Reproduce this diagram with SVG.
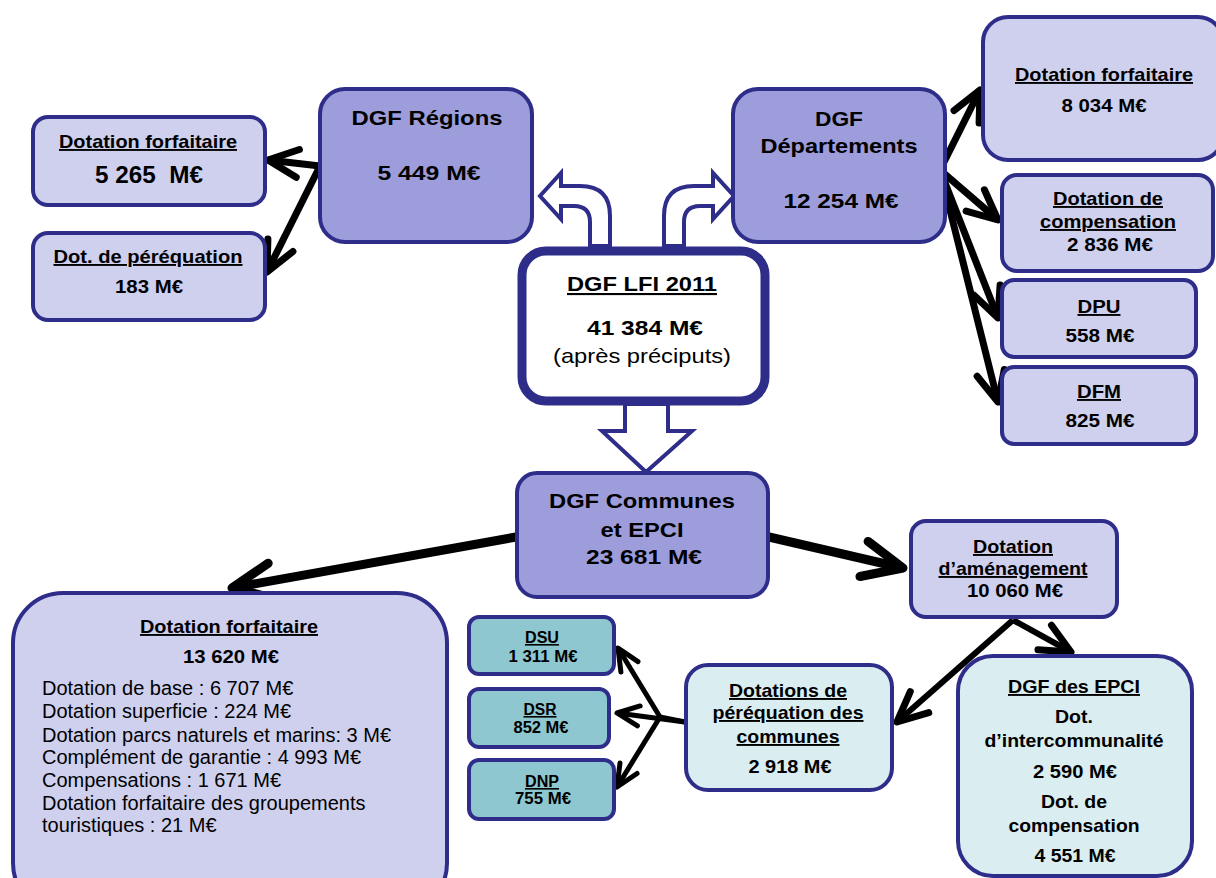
<svg xmlns="http://www.w3.org/2000/svg" width="1216" height="878" viewBox="0 0 1216 878">
<style>
.t{font-family:"Liberation Sans",Arial,sans-serif;font-weight:bold;fill:#000;text-anchor:middle;font-size:19px}
.b{font-size:21px}
.s{font-size:16px}
.u{text-decoration:underline}
.r{font-weight:normal}
.l{text-anchor:start;font-weight:normal;font-size:20px}
.box{stroke:#2e2e8a;stroke-width:4}
.mid{fill:#9d9ddc}
.lt{fill:#cfcfee}
.cy{fill:#daedf0}
.tl{fill:#8ec7cf}
.ln{stroke:#000;fill:none}
.blk{fill:#fff;stroke:#2e2e8a;stroke-width:4;stroke-linejoin:miter}
</style>
<defs>
<marker id="am" markerUnits="userSpaceOnUse" orient="auto" markerWidth="2" markerHeight="2" refX="0" refY="0" style="overflow:visible"><path d="M-30,-14 L0,0 L-30,14" fill="none" stroke="#000" stroke-width="7" stroke-linecap="round" stroke-linejoin="round"/></marker>
<marker id="al" markerUnits="userSpaceOnUse" orient="auto" markerWidth="2" markerHeight="2" refX="0" refY="0" style="overflow:visible"><path d="M-40,-18 L0,0 L-40,18" fill="none" stroke="#000" stroke-width="9" stroke-linecap="round" stroke-linejoin="round"/></marker>
<marker id="as" markerUnits="userSpaceOnUse" orient="auto" markerWidth="2" markerHeight="2" refX="0" refY="0" style="overflow:visible"><path d="M-22,-10 L0,0 L-22,10" fill="none" stroke="#000" stroke-width="5" stroke-linecap="round" stroke-linejoin="round"/></marker>
</defs>

<g id="block-arrows">
<path class="blk" d="M590,246 L590,222 Q590,206 574,206 L561,206 L561,219 L540,196 L561,173 L561,186 L580,186 Q610,186 610,216 L610,246 Z"/>
<path class="blk" d="M684,246 L684,222 Q684,206 700,206 L713,206 L713,219 L734,196 L713,173 L713,186 L694,186 Q664,186 664,216 L664,246 Z"/>
<path class="blk" d="M625,404 L668,404 L668,431 L692,431 L646,472 L602,431 L625,431 Z"/>
</g>

<g id="connectors">
<path class="ln" stroke-width="7" marker-end="url(#am)" d="M320,166 L268,160"/>
<path class="ln" stroke-width="7" marker-end="url(#am)" d="M320,166 L267,272"/>
<path class="ln" stroke-width="7" marker-end="url(#am)" d="M940,170 L980,90"/>
<path class="ln" stroke-width="7" marker-end="url(#am)" d="M940,170 L998,220"/>
<path class="ln" stroke-width="7" marker-end="url(#am)" d="M940,170 L998,318"/>
<path class="ln" stroke-width="7" marker-end="url(#am)" d="M940,170 L998,402"/>
<path class="ln" stroke-width="9" marker-end="url(#al)" d="M516,537 L232,588"/>
<path class="ln" stroke-width="9" marker-end="url(#al)" d="M769,537 L903,568"/>
<path class="ln" stroke-width="6" marker-end="url(#am)" d="M1013,620 L897,722"/>
<path class="ln" stroke-width="6" marker-end="url(#am)" d="M1013,620 L1071,652"/>
<path class="ln" stroke-width="5" d="M685,722 L660,717"/>
<path class="ln" stroke-width="5" marker-end="url(#as)" d="M660,717 L618,648"/>
<path class="ln" stroke-width="5" marker-end="url(#as)" d="M685,722 L617,713"/>
<path class="ln" stroke-width="5" marker-end="url(#as)" d="M660,717 L617,787"/>
</g>

<g id="dgf-lfi">
<rect x="522" y="251" width="243" height="150" rx="24" fill="#fff" stroke="#2e2e8a" stroke-width="9"/>
<text class="t b u" x="642" y="291" textLength="150" lengthAdjust="spacingAndGlyphs">DGF LFI 2011</text>
<text class="t b" x="645" y="335" textLength="116" lengthAdjust="spacingAndGlyphs">41 384 M€</text>
<text class="t b r" x="642" y="363" textLength="178" lengthAdjust="spacingAndGlyphs">(après préciputs)</text>
</g>

<g id="dgf-regions">
<rect x="320" y="89" width="212" height="153" rx="25" class="box mid"/>
<text class="t b" x="427" y="125" textLength="151" lengthAdjust="spacingAndGlyphs">DGF Régions</text>
<text class="t b" x="429" y="180" textLength="103" lengthAdjust="spacingAndGlyphs">5 449 M€</text>
</g>

<g id="dgf-departements">
<rect x="733" y="89" width="212" height="153" rx="25" class="box mid"/>
<text class="t b" x="839" y="126" textLength="48" lengthAdjust="spacingAndGlyphs">DGF</text>
<text class="t b" x="839" y="153" textLength="157" lengthAdjust="spacingAndGlyphs">Départements</text>
<text class="t b" x="841" y="208" textLength="115" lengthAdjust="spacingAndGlyphs">12 254 M€</text>
</g>

<g id="reg-forfaitaire">
<rect x="33" y="117" width="232" height="88" rx="15" class="box lt"/>
<text class="t u" x="148" y="148" textLength="178" lengthAdjust="spacingAndGlyphs">Dotation forfaitaire</text>
<text class="t" x="149" y="183" style="font-size:24px" xml:space="preserve" textLength="108" lengthAdjust="spacingAndGlyphs">5 265  M€</text>
</g>

<g id="reg-perequation">
<rect x="33" y="233" width="232" height="87" rx="15" class="box lt"/>
<text class="t u" x="148" y="263" textLength="189" lengthAdjust="spacingAndGlyphs">Dot. de péréquation</text>
<text class="t" x="149" y="293" textLength="68" lengthAdjust="spacingAndGlyphs">183 M€</text>
</g>

<g id="dep-forfaitaire">
<rect x="983" y="17" width="240" height="143" rx="25" class="box lt"/>
<text class="t u" x="1104" y="81" textLength="178" lengthAdjust="spacingAndGlyphs">Dotation forfaitaire</text>
<text class="t" x="1104" y="112" textLength="85" lengthAdjust="spacingAndGlyphs">8 034 M€</text>
</g>

<g id="dep-compensation">
<rect x="1002" y="175" width="211" height="96" rx="15" class="box lt"/>
<text class="t u" x="1108" y="205" textLength="110" lengthAdjust="spacingAndGlyphs">Dotation de</text>
<text class="t u" x="1108" y="228" textLength="136" lengthAdjust="spacingAndGlyphs">compensation</text>
<text class="t" x="1110" y="251" textLength="86" lengthAdjust="spacingAndGlyphs">2 836 M€</text>
</g>

<g id="dep-dpu">
<rect x="1002" y="280" width="194" height="77" rx="12" class="box lt"/>
<text class="t u" x="1099" y="313" textLength="43" lengthAdjust="spacingAndGlyphs">DPU</text>
<text class="t" x="1100" y="342" textLength="69" lengthAdjust="spacingAndGlyphs">558 M€</text>
</g>

<g id="dep-dfm">
<rect x="1002" y="367" width="194" height="77" rx="12" class="box lt"/>
<text class="t u" x="1099" y="398" textLength="44" lengthAdjust="spacingAndGlyphs">DFM</text>
<text class="t" x="1100" y="427" textLength="69" lengthAdjust="spacingAndGlyphs">825 M€</text>
</g>

<g id="dgf-communes">
<rect x="517" y="473" width="251" height="124" rx="20" class="box mid"/>
<text class="t b" x="642" y="508" textLength="186" lengthAdjust="spacingAndGlyphs">DGF Communes</text>
<text class="t b" x="642" y="537" textLength="83" lengthAdjust="spacingAndGlyphs">et EPCI</text>
<text class="t b" x="644" y="564" textLength="116" lengthAdjust="spacingAndGlyphs">23 681 M€</text>
</g>

<g id="com-forfaitaire">
<rect x="13" y="593" width="434" height="320" rx="50" class="box lt"/>
<text class="t u" x="229" y="633" textLength="178" lengthAdjust="spacingAndGlyphs">Dotation forfaitaire</text>
<text class="t" x="231" y="663" textLength="96" lengthAdjust="spacingAndGlyphs">13 620 M€</text>
<text class="t l" x="42" y="695">Dotation de base : 6 707 M€</text>
<text class="t l" x="42" y="718">Dotation superficie : 224 M€</text>
<text class="t l" x="42" y="742">Dotation parcs naturels et marins: 3 M€</text>
<text class="t l" x="42" y="764">Complément de garantie : 4 993 M€</text>
<text class="t l" x="42" y="787">Compensations : 1 671 M€</text>
<text class="t l" x="42" y="810">Dotation forfaitaire des groupements</text>
<text class="t l" x="42" y="832">touristiques : 21 M€</text>
</g>

<g id="dotation-amenagement">
<rect x="911" y="521" width="206" height="96" rx="15" class="box lt"/>
<text class="t u" x="1013" y="553" textLength="80" lengthAdjust="spacingAndGlyphs">Dotation</text>
<text class="t u" x="1013" y="575" textLength="149" lengthAdjust="spacingAndGlyphs">d’aménagement</text>
<text class="t" x="1015" y="597" textLength="96" lengthAdjust="spacingAndGlyphs">10 060 M€</text>
</g>

<g id="perequation-communes">
<rect x="686" y="665" width="206" height="125" rx="22" class="box cy"/>
<text class="t u" x="788" y="697" textLength="118" lengthAdjust="spacingAndGlyphs">Dotations de</text>
<text class="t u" x="788" y="719" textLength="151" lengthAdjust="spacingAndGlyphs">péréquation des</text>
<text class="t u" x="788" y="743" textLength="103" lengthAdjust="spacingAndGlyphs">communes</text>
<text class="t" x="790" y="773" textLength="83" lengthAdjust="spacingAndGlyphs">2 918 M€</text>
</g>

<g id="dgf-epci">
<rect x="958" y="656" width="234" height="220" rx="35" class="box cy"/>
<text class="t u" x="1074" y="693" textLength="132" lengthAdjust="spacingAndGlyphs">DGF des EPCI</text>
<text class="t" x="1074" y="723" textLength="38" lengthAdjust="spacingAndGlyphs">Dot.</text>
<text class="t" x="1074" y="747" textLength="179" lengthAdjust="spacingAndGlyphs">d’intercommunalité</text>
<text class="t" x="1075" y="778" textLength="84" lengthAdjust="spacingAndGlyphs">2 590 M€</text>
<text class="t" x="1074" y="808" textLength="66" lengthAdjust="spacingAndGlyphs">Dot. de</text>
<text class="t" x="1074" y="832" textLength="131" lengthAdjust="spacingAndGlyphs">compensation</text>
<text class="t" x="1075" y="862" textLength="81" lengthAdjust="spacingAndGlyphs">4 551 M€</text>
</g>

<g id="dsu">
<rect x="469" y="617" width="145" height="57" rx="10" class="box tl"/>
<text class="t s u" x="542" y="643" textLength="34" lengthAdjust="spacingAndGlyphs">DSU</text>
<text class="t s" x="543" y="662" textLength="69" lengthAdjust="spacingAndGlyphs">1 311 M€</text>
</g>

<g id="dsr">
<rect x="469" y="689" width="140" height="58" rx="10" class="box tl"/>
<text class="t s u" x="540" y="715" textLength="33" lengthAdjust="spacingAndGlyphs">DSR</text>
<text class="t s" x="541" y="733" textLength="55" lengthAdjust="spacingAndGlyphs">852 M€</text>
</g>

<g id="dnp">
<rect x="469" y="760" width="145" height="59" rx="10" class="box tl"/>
<text class="t s u" x="542" y="787" textLength="34" lengthAdjust="spacingAndGlyphs">DNP</text>
<text class="t s" x="543" y="804" textLength="56" lengthAdjust="spacingAndGlyphs">755 M€</text>
</g>
</svg>
